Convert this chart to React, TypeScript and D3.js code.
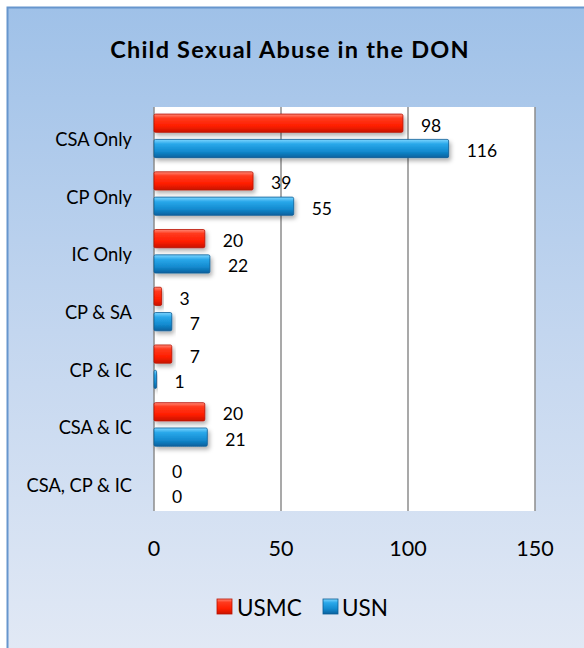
import React from "react";
import * as d3 from "d3";

const categories = ["CSA Only", "CP Only", "IC Only", "CP & SA", "CP & IC", "CSA & IC", "CSA, CP & IC"];
const usmcValues = [98, 39, 20, 3, 7, 20, 0];
const usnValues = [116, 55, 22, 7, 1, 21, 0];
const seriesNames = ["USMC", "USN"];
const xTicks = [0, 50, 100, 150];
const title = "Child Sexual Abuse in the DON";

const W = 584;
const H = 648;
const FONT = "Lato, 'Open Sans', sans-serif";

export default function App() {
  const x = d3.scaleLinear().domain([0, 150]).range([154, 535]);
  const y = d3.scaleBand<string>().domain(categories).range([107, 511]);
  const inner = d3
    .scaleBand<string>()
    .domain(seriesNames)
    .range([0, y.bandwidth()])
    .paddingInner(0.28)
    .paddingOuter(0.28);

  const series = [
    { name: "USMC", values: usmcValues, fill: "url(#gRed)", stroke: "#b81200" },
    { name: "USN", values: usnValues, fill: "url(#gBlue)", stroke: "#0b5d95" },
  ];

  return (
    <svg
      width={W}
      height={H}
      style={{ position: "absolute", left: 0, top: 0 }}
      xmlns="http://www.w3.org/2000/svg"
    >
      <defs>
        <linearGradient id="gBg" x1="0" y1="0" x2="0" y2="1">
          <stop offset="0" stopColor="#9fc1e8" />
          <stop offset="0.5" stopColor="#c3d6ef" />
          <stop offset="1" stopColor="#e2e9f5" />
        </linearGradient>
        <linearGradient id="gRed" x1="0" y1="0" x2="0" y2="1">
          <stop offset="0" stopColor="#ff8a78" />
          <stop offset="0.22" stopColor="#ff3a1e" />
          <stop offset="0.65" stopColor="#ff1e00" />
          <stop offset="1" stopColor="#c81400" />
        </linearGradient>
        <linearGradient id="gBlue" x1="0" y1="0" x2="0" y2="1">
          <stop offset="0" stopColor="#7fd6ff" />
          <stop offset="0.25" stopColor="#2aa8ea" />
          <stop offset="0.65" stopColor="#138bd0" />
          <stop offset="1" stopColor="#0a619e" />
        </linearGradient>
        <filter id="shadow" x="-10%" y="-30%" width="130%" height="180%">
          <feDropShadow dx="2" dy="3" stdDeviation="2" floodColor="#000" floodOpacity="0.3" />
        </filter>
      </defs>

      <rect x={7.5} y={7.5} width={W} height={H} fill="url(#gBg)" stroke="#6796cd" strokeWidth={2} />

      <text
        x={290}
        y={58}
        textAnchor="middle"
        fontFamily={FONT}
        fontWeight="bold"
        fontSize={23.5}
        letterSpacing={1.2}
        fill="#000"
      >
        {title}
      </text>

      <rect x={x(0)} y={107} width={x(150) - x(0)} height={511 - 107} fill="#ffffff" />

      {xTicks.map((t) => (
        <line key={"g" + t} x1={x(t)} x2={x(t)} y1={107} y2={511} stroke="#8c8c8c" strokeWidth={1.5} />
      ))}

      {series.map((s) =>
        categories.map((c, i) => {
          const v = s.values[i];
          const by = (y(c) as number) + (inner(s.name) as number);
          const bh = inner.bandwidth();
          const w = x(v) - x(0);
          return (
            <g key={s.name + c}>
              {v > 0 && (
                <rect
                  x={x(0)}
                  y={by}
                  width={w}
                  height={bh}
                  rx={1.5}
                  fill={s.fill}
                  stroke={s.stroke}
                  strokeWidth={0.8}
                  filter="url(#shadow)"
                />
              )}
              <text
                x={x(v) + 18}
                y={by + bh / 2 + 2}
                dominantBaseline="central"
                fontFamily={FONT}
                fontSize={17.5}
                fill="#000"
              >
                {v}
              </text>
            </g>
          );
        })
      )}

      {categories.map((c) => (
        <text
          key={"c" + c}
          x={132}
          y={(y(c) as number) + y.bandwidth() / 2 + 3}
          textAnchor="end"
          dominantBaseline="central"
          fontFamily={FONT}
          fontSize={18.3}
          fill="#000"
        >
          {c}
        </text>
      ))}

      {xTicks.map((t) => (
        <text
          key={"t" + t}
          x={x(t)}
          y={548}
          textAnchor="middle"
          dominantBaseline="central"
          fontFamily={FONT}
          fontSize={21.5}
          fill="#000"
        >
          {t}
        </text>
      ))}

      <g>
        <rect x={217} y={599} width={15} height={15} fill="url(#gRed)" stroke="#b81200" strokeWidth={0.8} />
        <text x={237} y={607} dominantBaseline="central" fontFamily={FONT} fontSize={22.5} fill="#000">
          {seriesNames[0]}
        </text>
        <rect x={323} y={599} width={15} height={15} fill="url(#gBlue)" stroke="#0b5d95" strokeWidth={0.8} />
        <text x={342} y={607} dominantBaseline="central" fontFamily={FONT} fontSize={22.5} fill="#000">
          {seriesNames[1]}
        </text>
      </g>
    </svg>
  );
}
